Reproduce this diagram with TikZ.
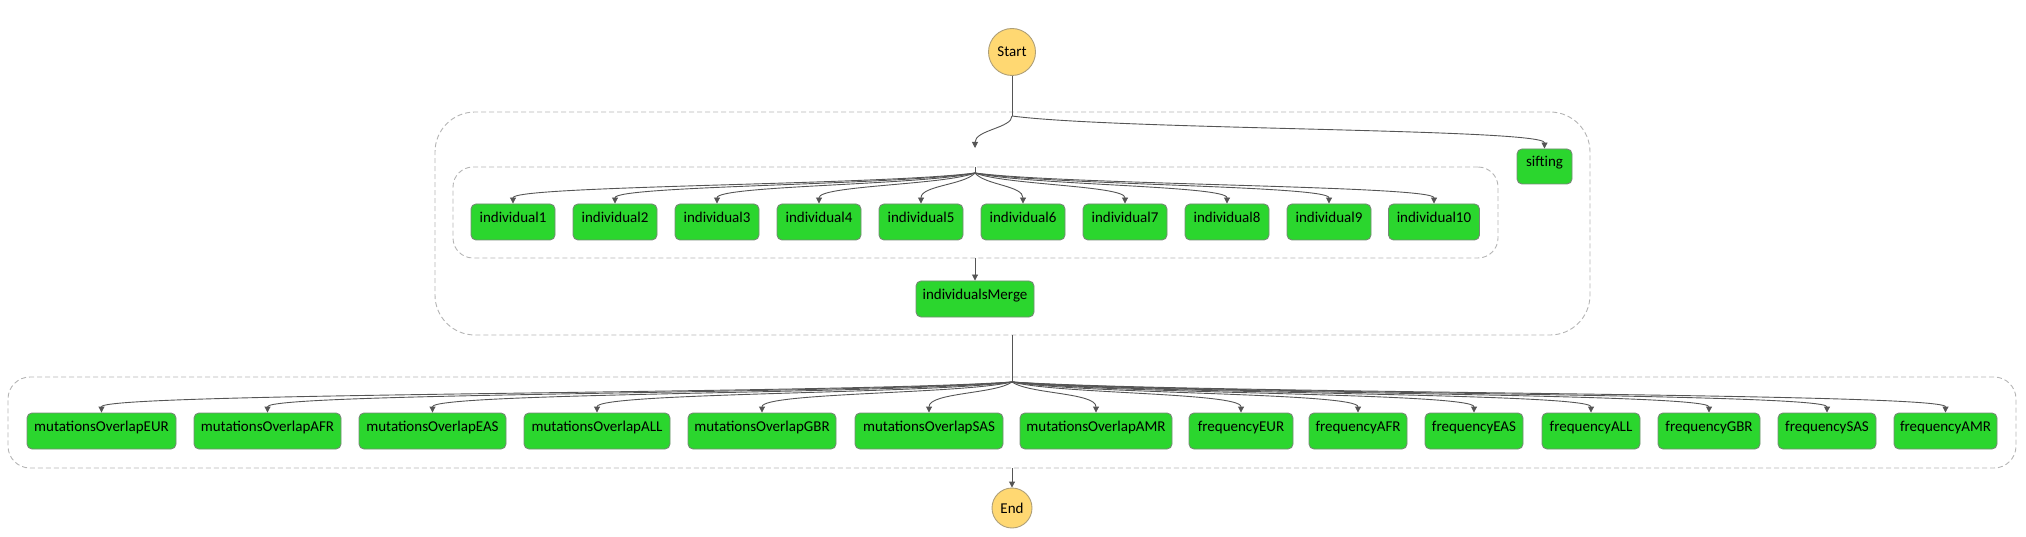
\documentclass[tikz,border=0pt]{standalone}
\usepackage{fontspec}
\setmainfont{Carlito}
\usetikzlibrary{arrows.meta,calc}
\definecolor{nodegreen}{HTML}{2BD62E}
\definecolor{nodeborder}{HTML}{768A76}
\definecolor{startfill}{HTML}{FFD872}
\definecolor{startborder}{HTML}{AE9F78}
\definecolor{edgecol}{HTML}{555555}
\definecolor{dashcol}{HTML}{B4B4B4}
\begin{document}
\begin{tikzpicture}[x=1pt,y=-1pt,
  task/.style={draw=nodeborder, line width=0.9pt, fill=nodegreen, rounded corners=5pt,
    minimum height=36pt, inner sep=0pt, text height=9pt, text depth=8.5pt,
    font=\fontsize{15}{18}\selectfont, text=black},
  term/.style={circle, draw=startborder, fill=startfill, line width=0.9pt, inner sep=0pt,
    font=\fontsize{15}{18}\selectfont, text=black},
  grp/.style={draw=dashcol, dash pattern=on 5pt off 3pt, line width=0.9pt, inner sep=0pt},
  edge/.style={draw=edgecol, line width=0.9pt},
  arr/.style={edge, -{Triangle[width=6pt,length=6pt]}}]
\useasboundingbox (0,0) rectangle (2026,537);

% groups
\node[grp, rounded corners=40pt, minimum width=1155pt, minimum height=223pt] (par1) at (1012.5,223.5) {};
\node[grp, rounded corners=20pt, minimum width=1045pt, minimum height=91pt] (inner) at (975.5,212.5) {};
\node[grp, rounded corners=22pt, minimum width=2008pt, minimum height=91pt] (bot) at (1012,422.5) {};

% terminals
\node[term, minimum size=47pt] (start) at (1012,52) {Start};
\node[term, minimum size=40pt] (end) at (1012,508) {End};

% tasks
\node[task, minimum width=55pt, minimum height=35pt] (sift) at (1544.5,166.5) {sifting};
\foreach \i/\cx/\w in {1/513/84,2/615/84,3/717/84,4/819/84,5/921/84,6/1023/84,7/1125/84,8/1227/84,9/1329/84,10/1434/91}
  \node[task, minimum width=\w pt] (ind\i) at (\cx,222) {individual\i};
\node[task, minimum width=118pt] (merge) at (975,299) {individualsMerge};

\foreach \nm/\cx/\w/\t in {
  mEUR/101.5/149/mutationsOverlapEUR, mAFR/267.5/147/mutationsOverlapAFR,
  mEAS/432.5/147/mutationsOverlapEAS, mALL/597/146/mutationsOverlapALL,
  mGBR/762/148/mutationsOverlapGBR, mSAS/929/148/mutationsOverlapSAS,
  mAMR/1096/152/mutationsOverlapAMR, fEUR/1241/104/frequencyEUR,
  fAFR/1358/98/frequencyAFR, fEAS/1474/98/frequencyEAS,
  fALL/1591/98/frequencyALL, fGBR/1709/102/frequencyGBR,
  fSAS/1827/98/frequencySAS, fAMR/1945.5/103/frequencyAMR}
  \node[task, minimum width=\w pt] (\nm) at (\cx,431) {\t};

% edges
\coordinate (split) at (1012,116);
\coordinate (mark) at (975,148);
\draw[edge] (start.south) -- (split);
\draw[arr] (split) .. controls +(0,12) and +(0,-18) .. (mark);
\draw[arr] (split) .. controls +(106,14) and +(0,-20) .. (sift.north);

\coordinate (fanA) at (975,167);
\coordinate (fanA2) at (975,173);
\draw[edge] (fanA) -- (fanA2);
\foreach \i/\cx in {1/513,2/615,3/717,4/819,5/921,6/1023,7/1125,8/1227,9/1329,10/1434} {
  \pgfmathsetmacro\cdx{0.2*(\cx-975)}
  \draw[arr] (fanA2) .. controls +(\cdx,12) and +(0,-18) .. (ind\i.north);
}
\draw[arr] (merge.north |- inner.south) -- (merge.north);

\coordinate (fanB) at (1012,382);
\draw[edge] (par1.south -| fanB) -- (fanB);
\foreach \nm/\cx in {mEUR/101.5,mAFR/267.5,mEAS/432.5,mALL/597,mGBR/762,mSAS/929,mAMR/1096,
  fEUR/1241,fAFR/1358,fEAS/1474,fALL/1591,fGBR/1709,fSAS/1827,fAMR/1945.5} {
  \pgfmathsetmacro\cdx{0.2*(\cx-1012)}
  \draw[arr] (fanB) .. controls +(\cdx,12) and +(0,-20) .. (\nm.north);
}
\draw[arr] (end.north |- bot.south) -- (end.north);
\end{tikzpicture}
\end{document}
